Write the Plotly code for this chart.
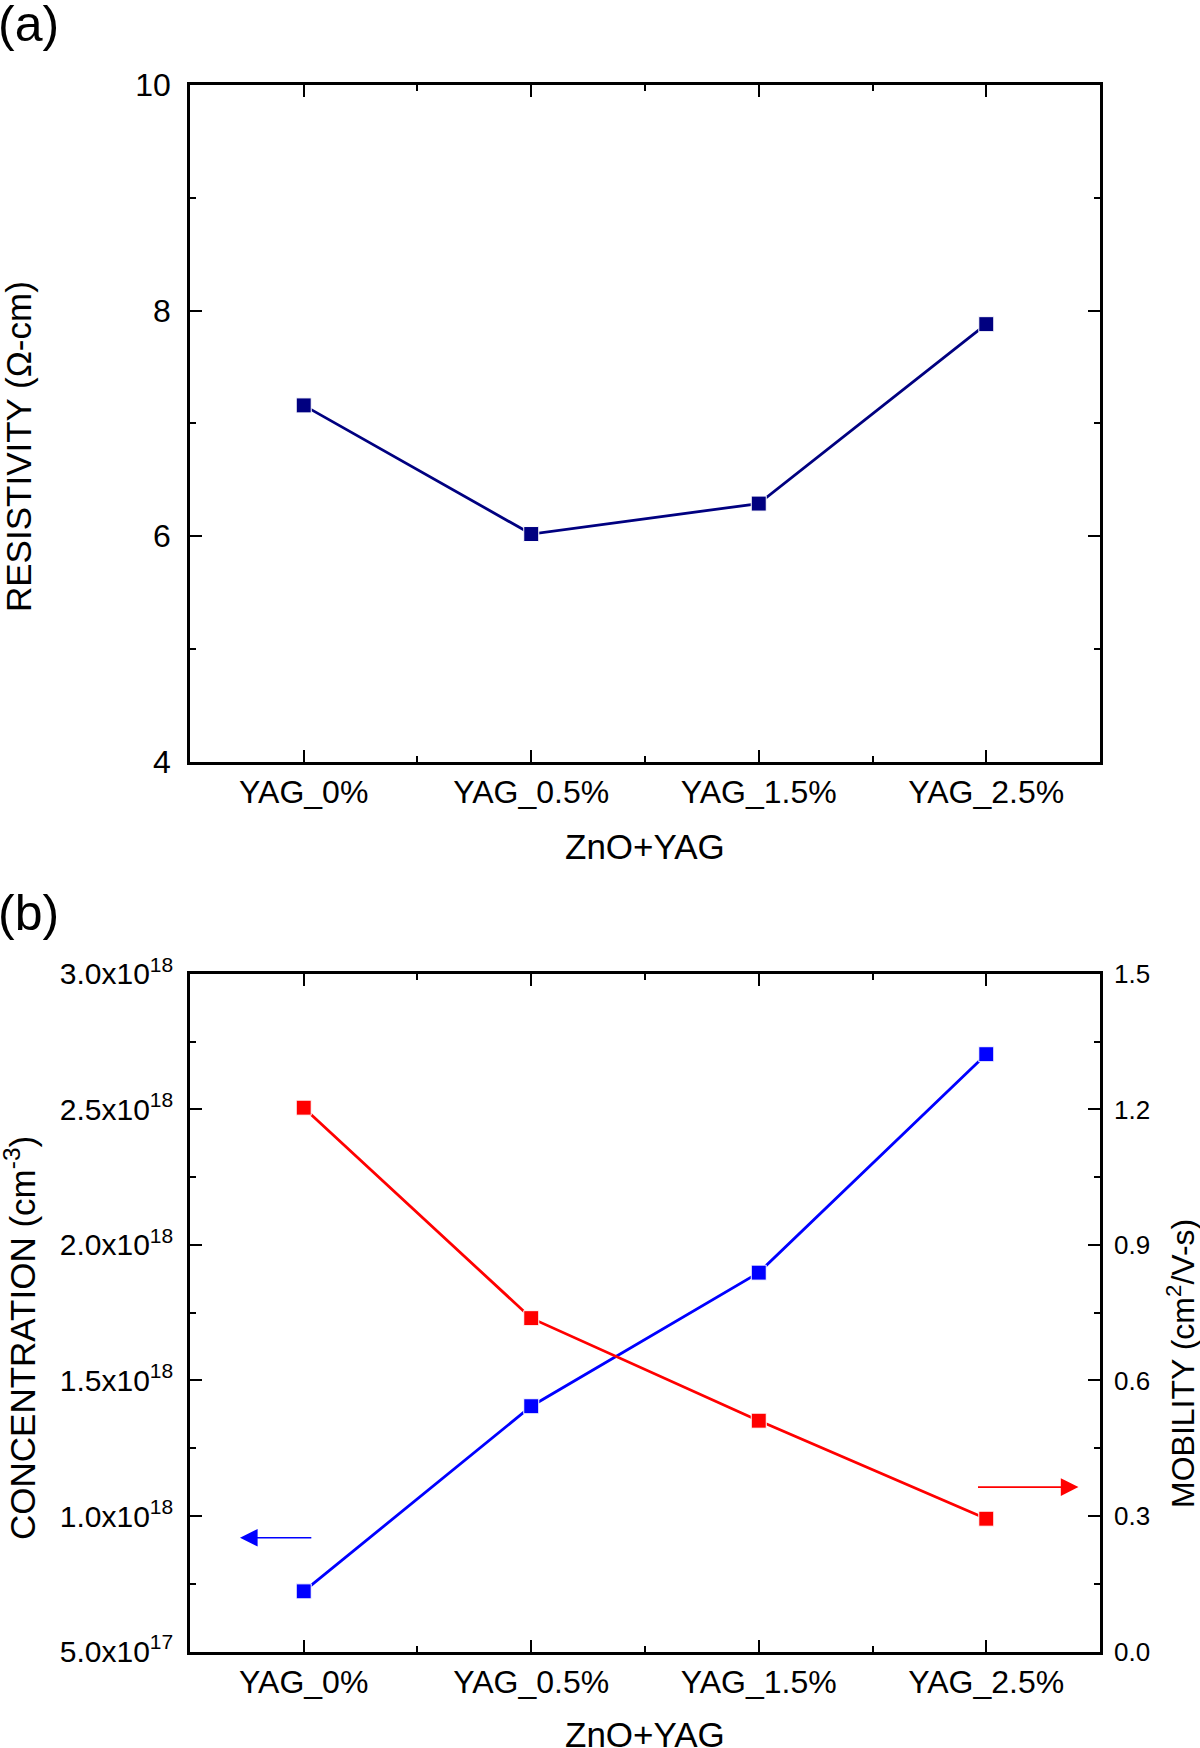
import plotly.graph_objects as go

# ---- data ----
categories = ["YAG_0%", "YAG_0.5%", "YAG_1.5%", "YAG_2.5%"]
resistivity = [7.16, 6.02, 6.29, 7.88]            # Ω-cm
concentration = [7.22e17, 1.405e18, 1.898e18, 2.704e18]  # cm^-3
mobility = [1.204, 0.738, 0.511, 0.294]           # cm^2/V-s

res_ticks = [4, 6, 8, 10]
conc_ticks = [5e17, 1.0e18, 1.5e18, 2.0e18, 2.5e18, 3.0e18]
mob_ticks = [0.0, 0.3, 0.6, 0.9, 1.2, 1.5]


def sci_label(v):
    exp = len(str(int(v))) - 1
    mant = v / 10 ** exp
    return f"{mant:.1f}x10<sup>{exp}</sup>"


conc_ticktext = [sci_label(v) for v in conc_ticks]
mob_ticktext = [f"{v:.1f}" for v in mob_ticks]

xpos = list(range(len(categories)))

FONT = "Liberation Sans, Arial, sans-serif"
NAVY = "#000080"
BLUE = "#0000FF"
RED = "#FF0000"

fig = go.Figure()

mk = dict(symbol="square", size=15, line=dict(color="white", width=1))

fig.add_trace(go.Scatter(
    x=xpos, y=resistivity, mode="lines+markers",
    line=dict(color=NAVY, width=2.8),
    marker=dict(mk, color=NAVY),
    xaxis="x", yaxis="y", showlegend=False))

fig.add_trace(go.Scatter(
    x=xpos, y=concentration, mode="lines+markers",
    line=dict(color=BLUE, width=2.8),
    marker=dict(mk, color=BLUE),
    xaxis="x2", yaxis="y3", showlegend=False))

fig.add_trace(go.Scatter(
    x=xpos, y=mobility, mode="lines+markers",
    line=dict(color=RED, width=2.8),
    marker=dict(mk, color=RED),
    xaxis="x2", yaxis="y4", showlegend=False))


def tf(size):
    return dict(size=size, color="black", family=FONT)


common = dict(showline=True, linecolor="black", linewidth=2.5, ticks="inside",
              ticklen=12, tickwidth=2, tickcolor="black", showgrid=False,
              zeroline=False, automargin=False)

xa = dict(common, range=[-0.5, len(categories) - 0.5], tickmode="array",
          tickvals=xpos, ticktext=categories, mirror="ticks",
          ticklabelstandoff=0, tickfont=tf(32),
          minor=dict(ticks="inside", ticklen=6, tickwidth=2, tickcolor="black",
                     tickmode="linear", tick0=-0.5, dtick=1))

fig.update_layout(
    template="none",
    width=1200, height=1748,
    paper_bgcolor="white", plot_bgcolor="white",
    margin=dict(l=0, r=0, t=0, b=0, autoexpand=False),
    font=dict(family=FONT, color="black"),
    xaxis=dict(xa, domain=[0.1583, 0.9167], anchor="y"),
    yaxis=dict(common, domain=[0.5641, 0.9514], anchor="x", range=[4, 10],
               tickmode="array", tickvals=res_ticks, mirror="ticks",
               ticklabelstandoff=10, tickfont=tf(32),
               minor=dict(ticks="inside", ticklen=6, tickwidth=2, tickcolor="black",
                          tickmode="linear", tick0=4, dtick=1)),
    xaxis2=dict(xa, domain=[0.1583, 0.9167], anchor="y3"),
    yaxis3=dict(common, domain=[0.0552, 0.4428], anchor="x2",
                range=[conc_ticks[0], conc_ticks[-1]],
                tickmode="array", tickvals=conc_ticks, ticktext=conc_ticktext,
                ticklabelstandoff=8, tickfont=tf(30),
                minor=dict(ticks="inside", ticklen=6, tickwidth=2, tickcolor="black",
                           tickmode="linear", tick0=5e17, dtick=2.5e17)),
    yaxis4=dict(common, overlaying="y3", side="right", anchor="x2",
                range=[mob_ticks[0], mob_ticks[-1]],
                tickmode="array", tickvals=mob_ticks, ticktext=mob_ticktext,
                ticklabelstandoff=6, tickfont=tf(26),
                minor=dict(ticks="inside", ticklen=6, tickwidth=2, tickcolor="black",
                           tickmode="linear", tick0=0, dtick=0.15)),
)

title_font = dict(size=35, color="black", family=FONT)
ann = []
# panel labels
ann.append(dict(text="(a)", x=0.0, y=1.0, xref="paper", yref="paper",
                xanchor="left", yanchor="top", showarrow=False,
                font=dict(size=50, color="black", family=FONT), yshift=6, xshift=-4))
ann.append(dict(text="(b)", x=0.0, y=1 - 889 / 1748, xref="paper", yref="paper",
                xanchor="left", yanchor="top", showarrow=False,
                font=dict(size=50, color="black", family=FONT), yshift=6, xshift=-4))
# x titles
ann.append(dict(text="ZnO+YAG", x=0.5375, y=1 - 847 / 1748, xref="paper", yref="paper",
                xanchor="center", yanchor="middle", showarrow=False, font=title_font))
ann.append(dict(text="ZnO+YAG", x=0.5375, y=1 - 1734 / 1748, xref="paper", yref="paper",
                xanchor="center", yanchor="middle", showarrow=False, font=title_font))
# y titles
ann.append(dict(text="RESISTIVITY (Ω-cm)", x=18 / 1200, y=1 - 447 / 1748,
                xref="paper", yref="paper", xanchor="center", yanchor="middle",
                textangle=-90, showarrow=False, font=title_font))
ann.append(dict(text="CONCENTRATION (cm<sup>-3</sup>)", x=20 / 1200, y=1 - 1338 / 1748,
                xref="paper", yref="paper", xanchor="center", yanchor="middle",
                textangle=-90, showarrow=False, font=title_font))
ann.append(dict(text="MOBILITY (cm<sup>2</sup>/V-s)", x=1181 / 1200, y=1 - 1364 / 1748,
                xref="paper", yref="paper", xanchor="center", yanchor="middle",
                textangle=-90, showarrow=False, font=dict(title_font, size=32)))
# arrows indicating axes
ann.append(dict(text="", x=-0.28, y=9.2e17, ax=0.04, ay=9.2e17,
                xref="x2", yref="y3", axref="x2", ayref="y3",
                showarrow=True, arrowhead=2, arrowsize=2.2, arrowwidth=1.6,
                arrowcolor=BLUE, standoff=0))
ann.append(dict(text="", x=3.405, y=0.364, ax=2.957, ay=0.364,
                xref="x2", yref="y4", axref="x2", ayref="y4",
                showarrow=True, arrowhead=2, arrowsize=2.2, arrowwidth=1.6,
                arrowcolor=RED, standoff=0))
fig.update_layout(annotations=ann)

fig.write_html("out.html", config={"displayModeBar": False},
               post_script="document.body.style.margin='0';document.body.style.padding='0';")
